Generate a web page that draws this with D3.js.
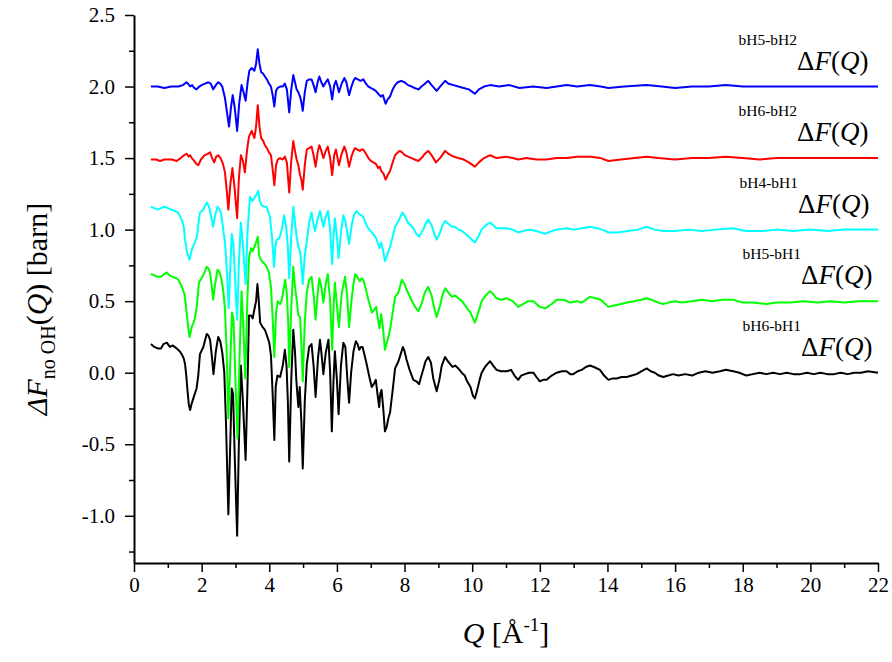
<!DOCTYPE html>
<html>
<head>
<meta charset="utf-8">
<script src="https://cdn.jsdelivr.net/npm/d3@7"></script>
<style>
  body { margin: 0; background: #fff; }
  svg text { font-family: "Liberation Serif", "Times New Roman", Times, "DejaVu Serif", serif; }
</style>
</head>
<body>
<div id="chart"></div>
<script>
const dfH6H1 = [[0.5,0.20],[0.6,0.18],[0.7,0.17],[0.8,0.17],[0.87,0.20],[0.97,0.21],[1.06,0.18],[1.15,0.19],[1.26,0.17],[1.35,0.15],[1.41,0.13],[1.47,0.10],[1.51,0.06],[1.55,-0.03],[1.58,-0.12],[1.62,-0.22],[1.66,-0.26],[1.70,-0.22],[1.74,-0.19],[1.78,-0.16],[1.85,-0.11],[1.90,-0.02],[1.95,0.13],[2.05,0.18],[2.15,0.27],[2.20,0.26],[2.25,0.23],[2.30,0.12],[2.35,-0.01],[2.42,0.15],[2.49,0.25],[2.55,0.22],[2.61,0.14],[2.67,0.0],[2.72,-0.35],[2.79,-0.99],[2.84,-0.55],[2.89,-0.11],[2.93,-0.15],[2.98,-0.6],[3.05,-1.14],[3.10,-0.5],[3.16,0.05],[3.22,-0.2],[3.30,-0.61],[3.36,-0.05],[3.40,0.40],[3.46,0.40],[3.51,0.38],[3.55,0.43],[3.61,0.50],[3.65,0.62],[3.69,0.50],[3.73,0.35],[3.80,0.32],[3.87,0.30],[3.93,0.26],[4.0,0.21],[4.05,0.12],[4.10,-0.15],[4.15,-0.47],[4.19,-0.10],[4.24,-0.02],[4.32,-0.03],[4.40,0.05],[4.46,0.16],[4.51,0.05],[4.55,-0.20],[4.59,-0.62],[4.65,-0.05],[4.71,0.30],[4.76,0.15],[4.80,-0.05],[4.83,-0.15],[4.86,-0.24],[4.90,-0.10],[4.95,-0.35],[4.99,-0.67],[5.05,-0.20],[5.11,0.06],[5.18,0.18],[5.25,0.20],[5.31,0.05],[5.37,-0.17],[5.44,0.10],[5.50,0.23],[5.55,0.12],[5.60,-0.01],[5.67,0.14],[5.75,0.23],[5.80,0.0],[5.85,-0.41],[5.90,-0.05],[5.94,0.15],[6.0,-0.05],[6.05,-0.29],[6.12,0.05],[6.19,0.21],[6.25,0.18],[6.31,-0.05],[6.36,-0.21],[6.42,0.0],[6.49,0.15],[6.56,0.22],[6.61,0.20],[6.66,0.16],[6.71,0.18],[6.76,0.18],[6.82,0.12],[6.88,0.06],[6.95,-0.02],[7.03,-0.10],[7.09,-0.08],[7.15,-0.05],[7.20,-0.15],[7.25,-0.24],[7.28,-0.15],[7.32,-0.12],[7.37,-0.25],[7.42,-0.41],[7.47,-0.38],[7.52,-0.32],[7.57,-0.28],[7.65,-0.12],[7.72,0.03],[7.82,0.08],[7.90,0.14],[7.95,0.18],[8.0,0.15],[8.06,0.09],[8.15,0.02],[8.26,-0.05],[8.35,-0.06],[8.43,-0.08],[8.50,-0.02],[8.55,0.02],[8.62,0.08],[8.70,0.11],[8.78,0.07],[8.85,-0.04],[8.95,-0.13],[9.03,-0.05],[9.10,0.05],[9.20,0.11],[9.28,0.08],[9.35,0.06],[9.42,0.04],[9.50,0.05],[9.59,0.03],[9.69,0.0],[9.78,-0.02],[9.85,-0.06],[9.95,-0.10],[10.02,-0.16],[10.08,-0.18],[10.15,-0.12],[10.22,-0.05],[10.28,0.0],[10.38,0.04],[10.45,0.06],[10.53,0.08],[10.62,0.05],[10.72,0.02],[10.85,0.01],[11.02,0.01],[11.15,0.02],[11.25,-0.02],[11.36,-0.05],[11.45,-0.02],[11.56,-0.01],[11.68,0.0],[11.81,0.0],[11.90,-0.03],[12.0,-0.06],[12.10,-0.05],[12.20,-0.05],[12.35,-0.02],[12.50,0.0],[12.65,0.01],[12.79,0.01],[12.90,-0.01],[12.99,-0.01],[13.12,0.01],[13.24,0.02],[13.36,0.04],[13.48,0.05],[13.60,0.04],[13.78,0.02],[13.90,-0.02],[14.03,-0.05],[14.15,-0.04],[14.27,-0.04],[14.42,-0.03],[14.57,-0.03],[14.72,-0.02],[14.86,-0.01],[15.0,0.01],[15.16,0.03],[15.28,0.01],[15.40,0.0],[15.52,-0.02],[15.65,-0.03],[15.80,-0.02],[15.94,-0.01],[16.1,-0.02],[16.3,-0.01],[16.5,-0.02],[16.7,0.0],[16.9,0.01],[17.1,0.0],[17.33,0.01],[17.5,0.02],[17.72,0.01],[17.9,0.0],[18.11,-0.02],[18.3,-0.01],[18.5,0.0],[18.7,-0.01],[18.9,0.0],[19.1,-0.01],[19.3,0.0],[19.5,-0.01],[19.7,-0.01],[19.9,0.0],[20.1,-0.01],[20.3,0.0],[20.5,-0.01],[20.7,-0.01],[20.9,0.0],[21.1,-0.01],[21.3,0.0],[21.5,0.0],[21.7,0.01],[22.0,0.0]];

const dfH5H1 = [[0.5,0.19],[0.6,0.18],[0.7,0.17],[0.8,0.17],[0.9,0.19],[0.97,0.20],[1.05,0.18],[1.15,0.17],[1.25,0.16],[1.31,0.15],[1.4,0.11],[1.49,0.05],[1.53,-0.02],[1.56,-0.09],[1.60,-0.18],[1.64,-0.25],[1.68,-0.21],[1.71,-0.18],[1.76,-0.15],[1.80,-0.12],[1.86,-0.03],[1.92,0.13],[2.02,0.17],[2.10,0.21],[2.15,0.24],[2.20,0.23],[2.25,0.20],[2.30,0.10],[2.34,0.01],[2.40,0.12],[2.47,0.22],[2.53,0.20],[2.59,0.15],[2.65,0.05],[2.69,-0.06],[2.74,-0.35],[2.79,-0.82],[2.85,-0.40],[2.90,-0.08],[2.94,-0.12],[3.0,-0.55],[3.06,-0.96],[3.12,-0.40],[3.18,0.07],[3.23,-0.15],[3.29,-0.54],[3.35,0.0],[3.40,0.30],[3.46,0.37],[3.51,0.35],[3.56,0.38],[3.62,0.42],[3.66,0.45],[3.70,0.32],[3.75,0.29],[3.82,0.27],[3.90,0.25],[3.99,0.20],[4.05,0.10],[4.10,-0.12],[4.15,-0.39],[4.20,-0.08],[4.25,0.0],[4.32,-0.02],[4.37,0.01],[4.42,0.08],[4.47,0.15],[4.52,0.05],[4.56,-0.15],[4.59,-0.46],[4.65,-0.05],[4.71,0.24],[4.76,0.10],[4.81,0.01],[4.86,-0.10],[4.91,-0.11],[4.95,-0.30],[4.99,-0.56],[5.05,-0.15],[5.11,0.06],[5.18,0.15],[5.25,0.17],[5.31,0.05],[5.37,-0.13],[5.43,0.05],[5.48,0.16],[5.54,0.10],[5.60,-0.01],[5.67,0.12],[5.73,0.19],[5.80,0.0],[5.86,-0.34],[5.90,-0.05],[5.94,0.13],[6.0,-0.03],[6.06,-0.18],[6.14,0.05],[6.24,0.17],[6.30,0.05],[6.36,-0.18],[6.43,0.0],[6.49,0.12],[6.54,0.19],[6.60,0.17],[6.68,0.14],[6.73,0.16],[6.78,0.15],[6.86,0.08],[6.93,0.01],[7.03,-0.08],[7.10,-0.06],[7.16,-0.04],[7.21,-0.12],[7.26,-0.19],[7.31,-0.09],[7.36,-0.18],[7.42,-0.34],[7.50,-0.27],[7.57,-0.20],[7.65,-0.08],[7.72,0.03],[7.82,0.06],[7.92,0.15],[8.0,0.12],[8.06,0.08],[8.2,0.01],[8.31,-0.04],[8.41,-0.07],[8.5,-0.02],[8.6,0.06],[8.70,0.10],[8.80,0.04],[8.88,-0.05],[8.95,-0.11],[9.05,-0.03],[9.12,0.04],[9.20,0.09],[9.30,0.06],[9.40,0.03],[9.50,0.04],[9.59,0.02],[9.70,0.0],[9.85,-0.05],[9.95,-0.08],[10.08,-0.15],[10.18,-0.08],[10.28,0.0],[10.40,0.04],[10.53,0.07],[10.62,0.05],[10.72,0.02],[10.85,0.01],[11.02,0.02],[11.2,0.0],[11.36,-0.04],[11.5,-0.02],[11.65,0.0],[11.81,0.0],[12.0,-0.04],[12.16,-0.05],[12.35,-0.02],[12.50,0.01],[12.7,0.01],[12.9,-0.01],[13.1,0.0],[13.24,-0.01],[13.36,0.01],[13.48,0.03],[13.65,0.02],[13.8,0.01],[14.03,-0.04],[14.2,-0.03],[14.4,-0.02],[14.57,-0.01],[14.8,0.0],[15.0,0.01],[15.16,0.02],[15.3,0.01],[15.5,-0.01],[15.65,-0.02],[15.8,-0.01],[16.0,0.0],[16.2,-0.01],[16.5,0.0],[16.8,0.01],[17.1,0.0],[17.4,0.01],[17.72,0.01],[18.0,-0.01],[18.3,-0.01],[18.7,-0.02],[19.0,-0.01],[19.4,-0.01],[19.8,0.0],[20.2,-0.01],[20.6,0.0],[21.0,-0.01],[21.4,0.0],[21.7,0.0],[22.0,0.0]];

const dfH4H1 = [[0.5,0.16],[0.6,0.15],[0.7,0.14],[0.8,0.15],[0.9,0.16],[1.0,0.15],[1.1,0.14],[1.2,0.13],[1.3,0.12],[1.41,0.07],[1.47,0.02],[1.51,-0.07],[1.57,-0.16],[1.64,-0.21],[1.68,-0.17],[1.71,-0.14],[1.78,-0.10],[1.86,-0.05],[1.90,0.03],[1.95,0.12],[2.05,0.14],[2.15,0.19],[2.20,0.17],[2.25,0.13],[2.30,0.07],[2.34,0.02],[2.40,0.10],[2.47,0.16],[2.53,0.14],[2.57,0.12],[2.64,0.0],[2.69,-0.09],[2.75,-0.30],[2.80,-0.55],[2.85,-0.25],[2.89,-0.03],[2.94,-0.10],[3.0,-0.40],[3.05,-0.63],[3.10,-0.25],[3.16,0.05],[3.22,-0.10],[3.30,-0.38],[3.36,0.0],[3.43,0.23],[3.50,0.20],[3.56,0.22],[3.61,0.24],[3.67,0.27],[3.72,0.20],[3.77,0.17],[3.85,0.16],[3.92,0.16],[4.02,0.09],[4.08,-0.05],[4.14,-0.26],[4.18,-0.12],[4.22,-0.07],[4.30,-0.06],[4.37,0.0],[4.44,0.10],[4.50,0.02],[4.55,-0.12],[4.59,-0.34],[4.65,-0.05],[4.71,0.16],[4.76,0.05],[4.81,-0.05],[4.86,-0.12],[4.91,-0.15],[4.95,-0.25],[4.99,-0.38],[5.05,-0.18],[5.11,-0.08],[5.18,0.05],[5.25,0.12],[5.30,0.05],[5.35,-0.01],[5.42,0.06],[5.50,0.13],[5.55,0.08],[5.60,0.02],[5.67,0.09],[5.74,0.13],[5.80,0.0],[5.86,-0.24],[5.90,-0.05],[5.94,0.08],[6.0,-0.05],[6.05,-0.20],[6.12,-0.02],[6.19,0.10],[6.25,0.06],[6.31,-0.03],[6.36,-0.10],[6.43,0.02],[6.50,0.10],[6.58,0.13],[6.65,0.11],[6.72,0.10],[6.78,0.09],[6.84,0.05],[6.90,0.02],[6.96,0.0],[7.03,-0.02],[7.10,-0.04],[7.16,-0.06],[7.22,-0.10],[7.26,-0.13],[7.31,-0.09],[7.36,-0.14],[7.42,-0.22],[7.50,-0.17],[7.57,-0.12],[7.65,-0.05],[7.72,0.02],[7.82,0.06],[7.94,0.12],[8.02,0.09],[8.10,0.05],[8.26,0.01],[8.35,-0.03],[8.43,-0.05],[8.55,0.0],[8.62,0.04],[8.70,0.07],[8.80,0.03],[8.88,-0.03],[8.95,-0.07],[9.05,-0.02],[9.12,0.03],[9.20,0.06],[9.30,0.04],[9.40,0.02],[9.50,0.02],[9.59,0.0],[9.70,-0.01],[9.85,-0.04],[9.95,-0.06],[10.08,-0.09],[10.18,-0.05],[10.28,0.0],[10.40,0.03],[10.53,0.05],[10.62,0.03],[10.72,0.01],[10.85,0.01],[11.02,0.01],[11.2,0.0],[11.36,-0.02],[11.5,-0.01],[11.7,0.0],[11.9,-0.01],[12.16,-0.03],[12.35,-0.01],[12.5,0.0],[12.8,0.01],[13.0,0.0],[13.24,0.01],[13.48,0.02],[13.7,0.01],[13.85,0.0],[14.03,-0.02],[14.3,-0.02],[14.6,-0.01],[14.9,0.0],[15.16,0.02],[15.4,0.0],[15.65,-0.01],[16.0,-0.01],[16.4,0.0],[16.8,-0.01],[17.2,0.0],[17.7,0.01],[18.1,-0.01],[18.6,-0.01],[19.0,0.0],[19.5,-0.01],[20.0,0.0],[20.5,-0.01],[21.0,0.0],[21.5,0.0],[22.0,0.0]];

const dfH6H2 = [[0.5,-0.01],[0.65,-0.01],[0.77,-0.02],[0.9,-0.01],[1.0,-0.01],[1.12,-0.01],[1.26,-0.02],[1.38,0.0],[1.48,0.02],[1.56,0.03],[1.62,0.01],[1.66,0.02],[1.71,0.0],[1.78,-0.02],[1.84,-0.04],[1.90,-0.05],[1.98,-0.01],[2.09,0.02],[2.18,0.03],[2.25,0.04],[2.31,0.0],[2.37,-0.03],[2.43,0.01],[2.49,0.02],[2.56,0.0],[2.63,-0.04],[2.69,-0.10],[2.74,-0.22],[2.79,-0.36],[2.85,-0.18],[2.91,-0.07],[2.97,-0.20],[3.05,-0.42],[3.10,-0.15],[3.16,0.02],[3.22,-0.02],[3.28,-0.10],[3.34,0.05],[3.40,0.15],[3.48,0.19],[3.56,0.14],[3.61,0.22],[3.66,0.37],[3.71,0.22],[3.76,0.14],[3.82,0.12],[3.87,0.09],[3.93,0.07],[3.99,0.04],[4.05,0.02],[4.10,-0.08],[4.15,-0.19],[4.20,-0.05],[4.25,-0.01],[4.32,0.0],[4.40,-0.01],[4.46,0.01],[4.52,-0.03],[4.59,-0.24],[4.65,-0.02],[4.71,0.12],[4.76,0.05],[4.81,-0.01],[4.86,-0.05],[4.91,-0.12],[4.95,-0.15],[4.99,-0.22],[5.05,-0.05],[5.11,0.06],[5.18,0.07],[5.25,0.08],[5.31,0.02],[5.37,-0.06],[5.43,0.04],[5.48,0.09],[5.54,0.05],[5.60,0.0],[5.67,0.05],[5.73,0.08],[5.80,0.0],[5.86,-0.12],[5.92,0.02],[5.97,0.06],[6.02,0.0],[6.06,-0.05],[6.14,0.03],[6.22,0.08],[6.28,0.04],[6.36,-0.06],[6.43,0.01],[6.49,0.05],[6.54,0.07],[6.60,0.06],[6.68,0.05],[6.73,0.06],[6.78,0.06],[6.86,0.03],[6.93,0.0],[7.00,-0.02],[7.08,-0.03],[7.15,-0.04],[7.22,-0.07],[7.27,-0.06],[7.31,-0.09],[7.38,-0.11],[7.44,-0.15],[7.50,-0.12],[7.57,-0.09],[7.65,-0.03],[7.72,0.02],[7.80,0.04],[7.86,0.05],[7.93,0.04],[8.01,0.02],[8.10,0.01],[8.21,0.0],[8.30,-0.01],[8.41,-0.02],[8.50,0.0],[8.60,0.03],[8.70,0.05],[8.80,0.02],[8.93,-0.03],[9.05,0.0],[9.20,0.05],[9.30,0.03],[9.45,0.01],[9.59,0.0],[9.75,-0.01],[9.90,-0.03],[10.08,-0.06],[10.2,-0.03],[10.35,0.0],[10.53,0.02],[10.72,0.0],[11.02,0.01],[11.2,0.0],[11.36,-0.01],[11.6,0.0],[11.9,-0.01],[12.2,-0.01],[12.5,0.0],[12.8,0.0],[13.1,0.01],[13.5,0.01],[13.8,0.0],[14.03,-0.02],[14.4,-0.01],[14.8,0.0],[15.16,0.01],[15.5,0.0],[16.0,-0.01],[16.5,0.0],[17.0,0.0],[17.5,0.01],[18.0,0.0],[18.5,-0.01],[19.0,0.0],[19.5,0.0],[20.0,0.0],[20.5,0.0],[21.0,0.0],[21.5,0.0],[22.0,0.0]];

const dfH5H2 = [[0.5,0.0],[0.7,0.0],[0.9,-0.01],[1.1,0.0],[1.31,0.0],[1.45,0.01],[1.55,0.03],[1.60,0.02],[1.66,0.0],[1.72,0.01],[1.78,-0.01],[1.85,-0.02],[1.93,0.0],[2.0,0.01],[2.10,0.02],[2.20,0.03],[2.27,0.02],[2.34,-0.02],[2.42,0.01],[2.49,0.03],[2.55,0.02],[2.61,0.0],[2.69,-0.08],[2.75,-0.18],[2.81,-0.28],[2.87,-0.14],[2.92,-0.06],[2.98,-0.15],[3.05,-0.31],[3.11,-0.12],[3.18,0.01],[3.24,-0.04],[3.30,-0.10],[3.36,0.03],[3.41,0.11],[3.48,0.13],[3.56,0.11],[3.61,0.16],[3.66,0.26],[3.71,0.16],[3.76,0.10],[3.82,0.09],[3.87,0.07],[3.93,0.05],[3.99,0.02],[4.05,0.0],[4.10,-0.06],[4.15,-0.14],[4.20,-0.03],[4.25,-0.01],[4.32,0.0],[4.40,0.0],[4.46,0.02],[4.52,-0.02],[4.59,-0.18],[4.65,-0.02],[4.71,0.08],[4.76,0.03],[4.81,-0.02],[4.86,-0.04],[4.91,-0.07],[4.95,-0.11],[4.99,-0.17],[5.05,-0.04],[5.11,0.04],[5.18,0.05],[5.25,0.05],[5.31,0.01],[5.37,-0.04],[5.43,0.03],[5.48,0.07],[5.54,0.03],[5.60,0.0],[5.67,0.03],[5.73,0.05],[5.80,0.0],[5.86,-0.09],[5.92,0.01],[5.97,0.04],[6.02,0.0],[6.06,-0.04],[6.14,0.02],[6.22,0.06],[6.28,0.03],[6.36,-0.06],[6.43,0.0],[6.49,0.04],[6.54,0.06],[6.62,0.05],[6.70,0.04],[6.78,0.05],[6.86,0.02],[6.93,0.0],[7.00,-0.01],[7.08,-0.02],[7.15,-0.03],[7.22,-0.05],[7.30,-0.07],[7.36,-0.06],[7.44,-0.12],[7.50,-0.09],[7.57,-0.07],[7.65,-0.02],[7.72,0.01],[7.80,0.03],[7.90,0.04],[8.0,0.03],[8.10,0.01],[8.21,0.0],[8.30,-0.01],[8.41,-0.02],[8.50,0.0],[8.60,0.02],[8.70,0.04],[8.80,0.01],[8.95,-0.03],[9.05,0.0],[9.20,0.04],[9.30,0.02],[9.45,0.01],[9.59,0.0],[9.75,-0.01],[9.90,-0.02],[10.08,-0.05],[10.2,-0.02],[10.35,0.0],[10.53,0.01],[10.8,0.0],[11.1,0.01],[11.4,-0.01],[11.8,0.0],[12.2,-0.01],[12.5,0.0],[12.79,0.01],[13.1,0.0],[13.48,0.01],[13.8,0.0],[14.03,-0.01],[14.5,0.0],[15.16,0.01],[15.6,0.0],[16.0,-0.01],[16.5,0.0],[17.0,0.0],[17.5,0.01],[18.0,0.0],[18.5,0.0],[19.0,0.0],[19.5,0.0],[20.0,0.0],[21.0,0.0],[22.0,0.0]];

const seriesNames = ["bH6-bH1", "bH5-bH1", "bH4-bH1", "bH6-bH2", "bH5-bH2"];
const seriesData = [dfH6H1, dfH5H1, dfH4H1, dfH6H2, dfH5H2];
const seriesOffsets = [0, 0.5, 1.0, 1.5, 2.0];
const seriesColors = ["#000000", "#00ff00", "#00ffff", "#ff0000", "#0000ff"];
// draw order (last on top)
const drawOrder = [4, 3, 2, 0, 1];

const xMajor = d3.range(0, 23, 2);
const xMinor = d3.range(1, 22, 2);
const yMajor = [-1.0, -0.5, 0.0, 0.5, 1.0, 1.5, 2.0, 2.5];
const yMinor = [-1.25, -0.75, -0.25, 0.25, 0.75, 1.25, 1.75, 2.25];

const serif = '"Liberation Serif", "Times New Roman", Times, "DejaVu Serif", serif';

const width = 892, height = 662;
const svg = d3.select("#chart").append("svg")
    .attr("width", width)
    .attr("height", height);

const x = d3.scaleLinear().domain([0, 22]).range([134, 878]);
const y = d3.scaleLinear().domain([-1.33, 2.5]).range([563, 15]);

// curves
const line = d3.line().x(d => x(d[0])).y(d => y(d[1]));
drawOrder.forEach(i => {
    const off = seriesOffsets[i];
    svg.append("path")
        .datum(seriesData[i].map(d => [d[0], d[1] + off]))
        .attr("fill", "none")
        .attr("stroke", seriesColors[i])
        .attr("stroke-width", 2)
        .attr("stroke-linejoin", "round")
        .attr("d", line);
});

// axes
const tickFont = 21;
svg.append("g")
    .attr("transform", "translate(0,563)")
    .call(d3.axisBottom(x).tickValues(xMinor).tickSize(5).tickFormat("").tickSizeOuter(0))
    .call(g => g.select(".domain").remove())
    .call(g => g.selectAll("line").attr("stroke-width", 1.5));
svg.append("g")
    .attr("transform", "translate(0,563)")
    .call(d3.axisBottom(x).tickValues(xMajor).tickSize(9).tickSizeOuter(0).tickPadding(5))
    .attr("font-family", serif)
    .call(g => g.select(".domain").attr("stroke-width", 2))
    .call(g => g.selectAll("line").attr("stroke-width", 1.5))
    .call(g => g.selectAll("text").attr("font-size", tickFont).style("font-family", serif).attr("fill", "#000"));

svg.append("g")
    .attr("transform", "translate(134,0)")
    .call(d3.axisLeft(y).tickValues(yMinor).tickSize(5).tickFormat("").tickSizeOuter(0))
    .call(g => g.select(".domain").remove())
    .call(g => g.selectAll("line").attr("stroke-width", 1.5));
svg.append("g")
    .attr("transform", "translate(134,0)")
    .call(d3.axisLeft(y).tickValues(yMajor).tickSize(9).tickSizeOuter(0).tickPadding(10)
        .tickFormat(d => d.toFixed(1)))
    .attr("font-family", serif)
    .call(g => g.select(".domain").attr("stroke-width", 2))
    .call(g => g.selectAll("line").attr("stroke-width", 1.5))
    .call(g => g.selectAll("text").attr("font-size", tickFont).style("font-family", serif).attr("fill", "#000"));

// curve labels
seriesNames.forEach((name, i) => {
    const by = y(seriesOffsets[i]) - 17;
    const lx = 797 + (i < 2 ? 4 : i === 2 ? 1 : 0);
    svg.append("text")
        .attr("x", lx).attr("y", by - 25)
        .attr("text-anchor", "end")
        .attr("font-size", 15.5)
        .text(name);
    const t = svg.append("text")
        .attr("x", lx).attr("y", by)
        .attr("font-size", 27);
    t.append("tspan").text("\u0394");
    t.append("tspan").attr("font-style", "italic").text("F");
    t.append("tspan").text("(");
    t.append("tspan").attr("font-style", "italic").text("Q");
    t.append("tspan").text(")");
});

// axis titles
const xt = svg.append("text")
    .attr("x", 506).attr("y", 643)
    .attr("text-anchor", "middle")
    .attr("font-size", 30);
xt.append("tspan").attr("font-style", "italic").text("Q");
xt.append("tspan").text(" [\u00C5");
xt.append("tspan").attr("font-size", 19).attr("dy", -12).text("-1");
xt.append("tspan").attr("dy", 12).text("]");

const yt = svg.append("text")
    .attr("transform", "translate(47,309) rotate(-90)")
    .attr("text-anchor", "middle")
    .attr("font-size", 30);
yt.append("tspan").attr("font-style", "italic").text("\u0394F");
yt.append("tspan").attr("font-size", 20).attr("dy", 8).text("no OH");
yt.append("tspan").attr("dy", -8).text("(");
yt.append("tspan").attr("font-style", "italic").text("Q");
yt.append("tspan").text(") [barn]");
</script>
</body>
</html>
